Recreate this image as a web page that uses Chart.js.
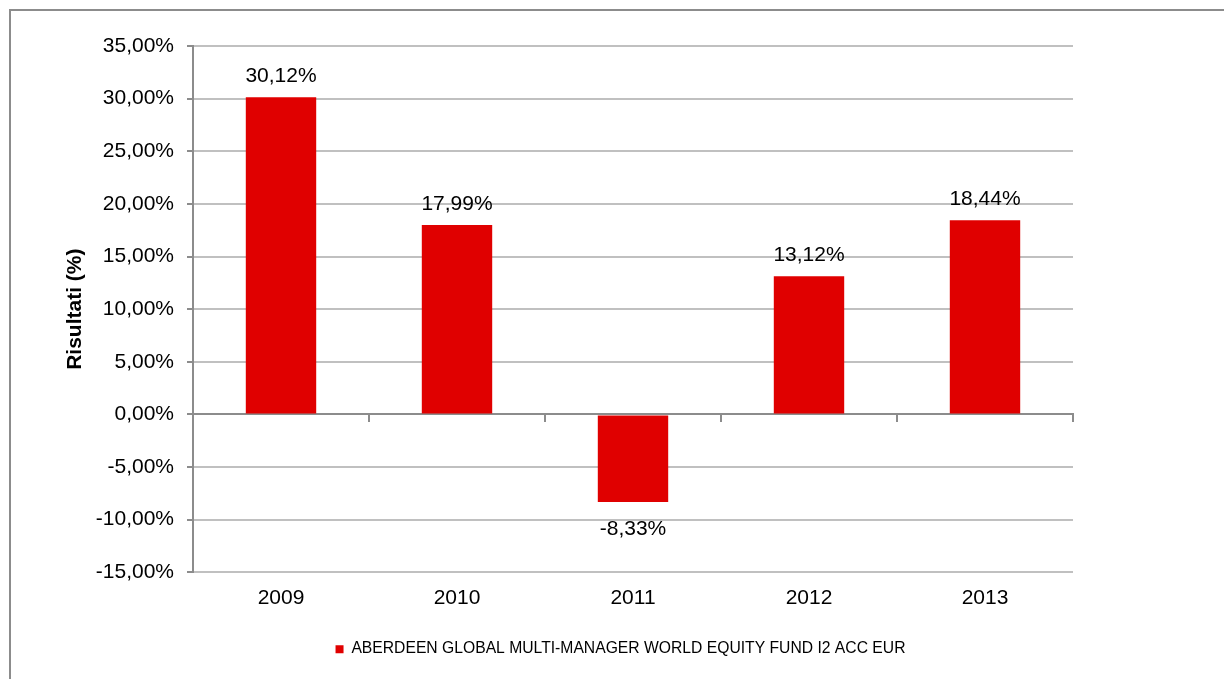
<!DOCTYPE html>
<html>
<head>
<meta charset="utf-8">
<script src="https://cdn.jsdelivr.net/npm/chart.js@4.4.0/dist/chart.umd.min.js"></script>
<style>
  html, body { margin: 0; padding: 0; background: #fff; overflow: hidden; }
  #frame { position: absolute; left: 9px; top: 9px; width: 1400px; height: 900px; border: 2px solid #8c8c8c; }
  #wrap { position: absolute; left: 0; top: 0; width: 1224px; height: 679px; }
</style>
</head>
<body>
<div id="frame"></div>
<div id="wrap"><canvas id="chart"></canvas></div>
<script>
// values
const years = ["2009", "2010", "2011", "2012", "2013"];
const results = [30.12, 17.99, -8.33, 13.12, 18.44];
const seriesName = "ABERDEEN GLOBAL MULTI-MANAGER WORLD EQUITY FUND I2 ACC EUR";
const yMin = -15, yMax = 35, yStep = 5;

const FONT = "'Liberation Sans', Arial, sans-serif";
const RED = "#e00000";

function pct(v) {
    return v.toFixed(2).replace(".", ",") + "%";
}

// value labels over / under each bar
const barLabels = {
    id: "barLabels",
    afterDatasetsDraw(chart) {
        const ctx = chart.ctx;
        const meta = chart.getDatasetMeta(0);
        ctx.save();
        ctx.font = "21px " + FONT;
        ctx.fillStyle = "#000";
        ctx.textAlign = "center";
        ctx.textBaseline = "alphabetic";
        meta.data.forEach((bar, i) => {
            const v = results[i];
            const p = bar.getProps(["x", "y"], true);
            if (v >= 0) ctx.fillText(pct(v), p.x, p.y - 15);
            else ctx.fillText(pct(v), p.x, p.y + 33);
        });
        ctx.restore();
    }
};

new Chart(document.getElementById("chart").getContext("2d"), {
    type: "bar",
    data: {
        labels: years,
        datasets: [{
            label: seriesName,
            data: results,
            backgroundColor: RED,
            borderWidth: 0,
            barPercentage: 0.4,
            categoryPercentage: 1.0,
            xAxisID: "x",
            yAxisID: "y"
        }]
    },
    options: {
        responsive: true,
        maintainAspectRatio: false,
        animation: false,
        events: [],
        layout: { padding: { left: 59, right: 42, top: 46, bottom: 12 } },
        scales: {
            y: {
                min: yMin,
                max: yMax,
                afterFit: s => { s.width = 134; },
                ticks: {
                    stepSize: yStep,
                    padding: 13,
                    color: "#000",
                    font: { family: FONT, size: 21 },
                    callback: v => pct(v)
                },
                grid: { color: "#c0c0c0", lineWidth: 2, tickColor: "#8c8c8c", tickLength: 6 },
                border: { color: "#8c8c8c", width: 2 },
                title: {
                    display: true,
                    text: "Risultati (%)",
                    color: "#000",
                    font: { family: FONT, size: 21, weight: "bold" }
                }
            },
            yR: {
                position: "right",
                afterFit: s => { s.width = 109; },
                ticks: { display: false },
                grid: { display: false },
                border: { display: false }
            },
            x: {
                position: { y: 0 },
                offset: true,
                ticks: { display: false },
                grid: { offset: true, drawOnChartArea: false, tickLength: 7, tickColor: "#8c8c8c", lineWidth: 2 },
                border: { color: "#8c8c8c", width: 2 }
            },
            x2: {
                type: "category",
                position: "bottom",
                offset: true,
                afterFit: s => { s.height = 59; },
                ticks: { padding: 5, color: "#000", font: { family: FONT, size: 21 } },
                grid: { display: false },
                border: { display: false }
            }
        },
        plugins: {
            legend: {
                position: "bottom",
                labels: {
                    boxWidth: 8,
                    boxHeight: 8,
                    padding: 10,
                    color: "#000",
                    font: { family: FONT, size: 15.7 }
                }
            },
            tooltip: { enabled: false }
        }
    },
    plugins: [barLabels]
});
</script>
</body>
</html>
